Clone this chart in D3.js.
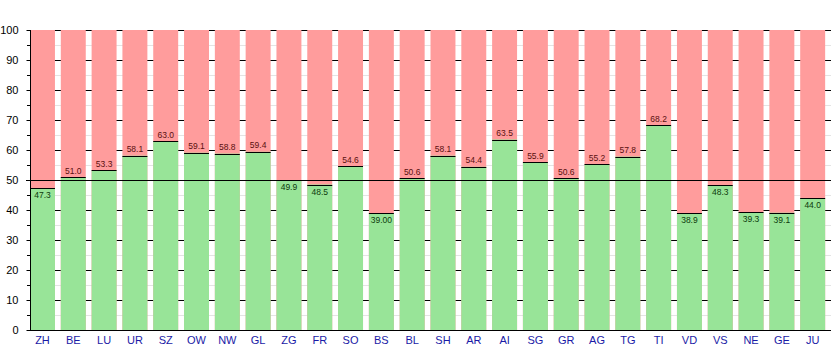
<!DOCTYPE html>
<html><head><meta charset="utf-8">
<script src="https://cdn.jsdelivr.net/npm/d3@7"></script>
<style>body{margin:0;background:#fff}svg{display:block}</style>
</head><body><svg id="c" width="835" height="350"></svg>
<script>
const categories = ["ZH","BE","LU","UR","SZ","OW","NW","GL","ZG","FR","SO","BS","BL","SH","AR","AI","SG","GR","AG","TG","TI","VD","VS","NE","GE","JU"];
const values = [47.3,51.0,53.3,58.1,63.0,59.1,58.8,59.4,49.9,48.5,54.6,39.00,50.6,58.1,54.4,63.5,55.9,50.6,55.2,57.8,68.2,38.9,48.3,39.3,39.1,44.0];
const valueLabels = ["47.3","51.0","53.3","58.1","63.0","59.1","58.8","59.4","49.9","48.5","54.6","39.00","50.6","58.1","54.4","63.5","55.9","50.6","55.2","57.8","68.2","38.9","48.3","39.3","39.1","44.0"];
const yTicks = [0,10,20,30,40,50,60,70,80,90,100];
const yMinor = [5,15,25,35,45,55,65,75,85,95];

const svg = d3.select("#c");
const L = 30, R = 831, T = 30, B = 330;
const x = d3.scaleBand().domain(categories).range([L, R]).padding(0);
const y = d3.scaleLinear().domain([0, 100]).range([B, T]);
const bw = x.step() * 0.81;
const font = "'Liberation Sans', Arial, sans-serif";

// gridlines
svg.append("g").selectAll("line").data(yMinor).join("line")
  .attr("x1", L).attr("x2", R).attr("y1", d => y(d)+0.5).attr("y2", d => y(d)+0.5)
  .attr("stroke", "#e4e4e4").attr("stroke-width", 1);
svg.append("g").selectAll("line").data(yTicks).join("line")
  .attr("x1", L).attr("x2", R).attr("y1", d => y(d)+0.5).attr("y2", d => y(d)+0.5)
  .attr("stroke", "#000").attr("stroke-width", 1);

const data = categories.map((c, i) => ({c, v: values[i], t: valueLabels[i]}));
const g = svg.append("g");
g.selectAll("rect.r").data(data).join("rect").attr("class","r")
  .attr("x", d => x(d.c)).attr("width", bw)
  .attr("y", y(100)).attr("height", y(0) - y(100))
  .attr("fill", "#ff9c9c");
g.selectAll("rect.g").data(data).join("rect").attr("class","g")
  .attr("x", d => x(d.c)).attr("width", bw)
  .attr("y", d => y(d.v)).attr("height", d => y(0) - y(d.v))
  .attr("fill", "#98e498");
g.selectAll("line.v").data(data).join("line").attr("class","v")
  .attr("x1", d => x(d.c)).attr("x2", d => x(d.c) + bw)
  .attr("y1", d => Math.round(y(d.v))+0.5).attr("y2", d => Math.round(y(d.v))+0.5)
  .attr("stroke", "#000").attr("stroke-width", 1);

// 50% line
svg.append("line").attr("x1", 26).attr("x2", R)
  .attr("y1", y(50)+0.5).attr("y2", y(50)+0.5).attr("stroke", "#000");

// value labels
g.selectAll("text.l").data(data).join("text").attr("class","l")
  .attr("x", d => x(d.c) + bw/2)
  .attr("y", d => d.v >= 50 ? y(d.v) - 3.5 : y(d.v) + 10)
  .attr("text-anchor", "middle")
  .attr("font-family", font).attr("font-size", 8.5)
  .attr("fill", d => d.v >= 50 ? "#5a1010" : "#0c3a0c")
  .text(d => d.t);

// y axis
const ya = svg.append("g").attr("transform", `translate(${L+0.5},0)`)
  .call(d3.axisLeft(y).tickValues(yTicks).tickSize(4).tickPadding(8).tickFormat(d3.format("d")));
ya.select(".domain").attr("d", `M0,${T}V${B}`).attr("stroke","#000");
ya.selectAll("text").attr("font-family", font).attr("font-size", 11).attr("fill", "#000");
svg.append("g").selectAll("line").data(yMinor).join("line")
  .attr("x1", L-3).attr("x2", L).attr("y1", d => y(d)+0.5).attr("y2", d => y(d)+0.5)
  .attr("stroke", "#000");

// x axis
svg.append("line").attr("x1", L).attr("x2", R).attr("y1", B+0.5).attr("y2", B+0.5).attr("stroke", "#000");
svg.append("g").selectAll("text").data(categories).join("text")
  .attr("x", d => x(d) + bw/2).attr("y", 344)
  .attr("text-anchor", "middle")
  .attr("font-family", font).attr("font-size", 11).attr("fill", "#1a1aa6")
  .text(d => d);
</script></body></html>
